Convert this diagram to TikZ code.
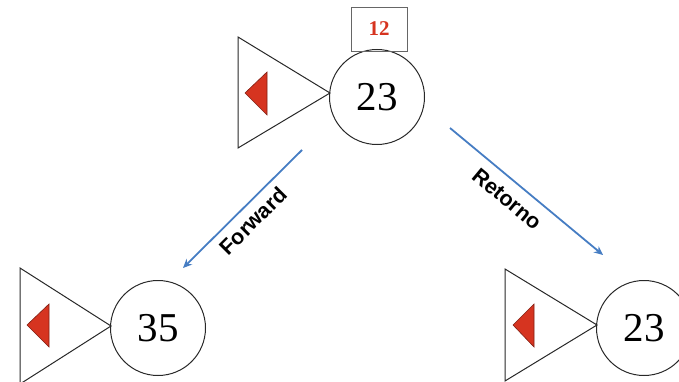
\documentclass[tikz,border=0pt]{standalone}
\usepackage{fontspec}
\setmainfont{Liberation Serif}
\newfontfamily\arialf{Liberation Sans}
\usetikzlibrary{arrows.meta}
\definecolor{flecha}{RGB}{70,125,195}
\definecolor{rojo}{RGB}{214,52,32}
\definecolor{borde}{RGB}{40,40,40}
\tikzset{
  tri/.style={draw=borde, line width=1pt, line join=miter},
  redtri/.style={draw=rojo!60!black, fill=rojo, line width=0.6pt},
  numcirc/.style={circle, draw=borde, line width=1pt, minimum size=95pt, inner sep=0pt, font=\fontsize{41}{43}\selectfont},
  valbox/.style={draw=gray!80!black, line width=0.8pt, minimum width=56pt, minimum height=44pt, inner sep=0pt, text=rojo, font=\fontsize{21}{23}\selectfont\bfseries},
  arr/.style={draw=flecha, line width=1.8pt, -{Stealth[length=9pt,width=8pt]}},
  lbl/.style={font=\arialf\bfseries\fontsize{21.5}{23}\selectfont}
}
\begin{document}
\begin{tikzpicture}[x=1pt,y=-1pt]
\useasboundingbox (0,0) rectangle (679,382);
% top group
\draw[tri] (238,37) -- (330,93) -- (238,148) -- cycle;
\draw[redtri] (245,93) -- (267,72) -- (267,115) -- cycle;
\node[numcirc] (c1) at (377,97) {23};
\node[valbox] (b1) at (379,29) {12};
% bottom-left group
\draw[tri] (20,268) -- (111,326) -- (20,384) -- cycle;
\draw[redtri] (27,325) -- (49,304) -- (49,347) -- cycle;
\node[numcirc] (c2) at (158,328) {35};
% bottom-right group
\draw[tri] (505,269) -- (597,325) -- (505,381) -- cycle;
\draw[redtri] (513,325) -- (534,304) -- (534,347) -- cycle;
\node[numcirc] (c3) at (644,328) {23};
% arrows
\coordinate (fs) at (302,150);
\coordinate (fe) at (183,268);
\coordinate (rs) at (450,128);
\coordinate (re) at (603,255);
\draw[arr] (fs) -- (fe);
\draw[arr] (rs) -- (re);
\node[lbl, rotate=45] (lf) at (253,221) {Forward};
\node[lbl, rotate=-39.7] (lr) at (507,199) {Retorno};
\end{tikzpicture}
\end{document}
